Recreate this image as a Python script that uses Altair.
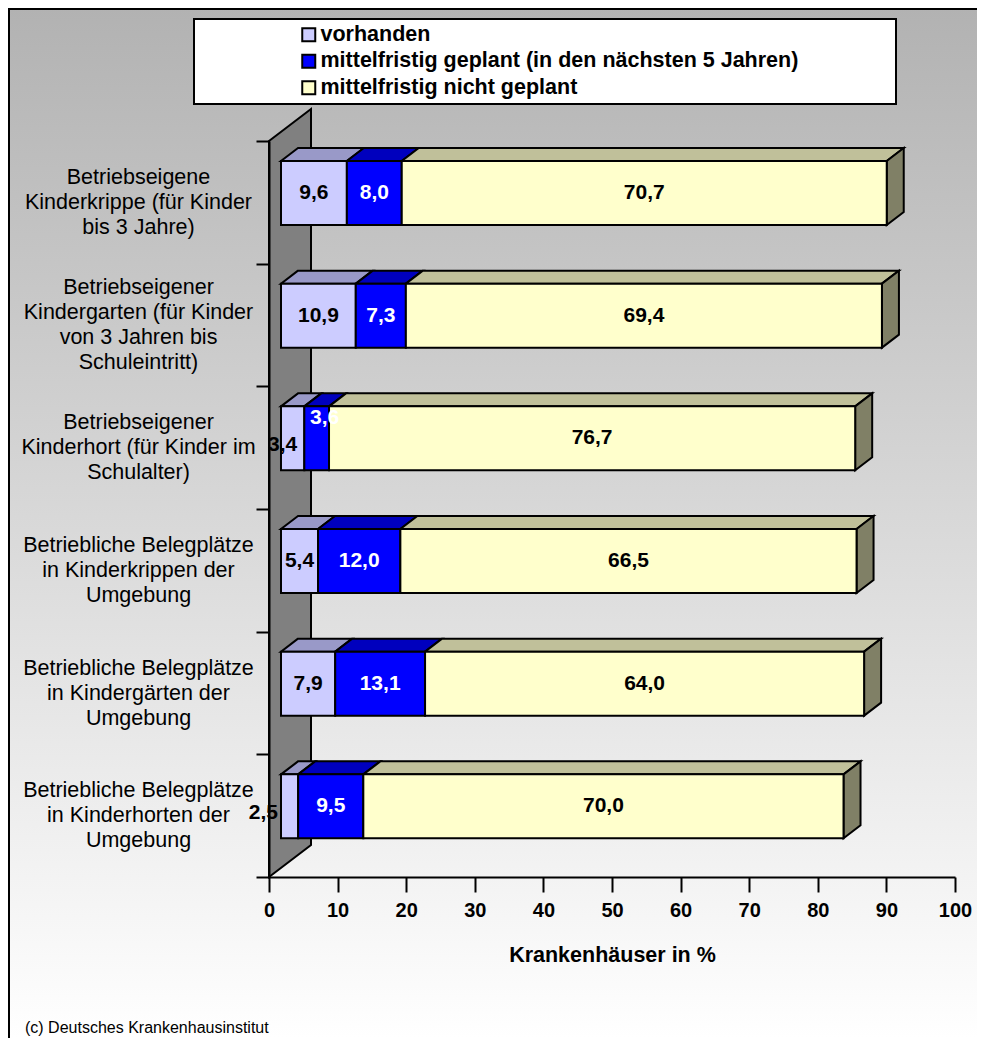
import json
import altair as alt
import pandas as pd

# ---------------- data ----------------
categories = [
    "Betriebseigene\nKinderkrippe (für Kinder\nbis 3 Jahre)",
    "Betriebseigener\nKindergarten (für Kinder\nvon 3 Jahren bis\nSchuleintritt)",
    "Betriebseigener\nKinderhort (für Kinder im\nSchulalter)",
    "Betriebliche Belegplätze\nin Kinderkrippen der\nUmgebung",
    "Betriebliche Belegplätze\nin Kindergärten der\nUmgebung",
    "Betriebliche Belegplätze\nin Kinderhorten der\nUmgebung",
]
series = [
    "vorhanden",
    "mittelfristig geplant (in den nächsten 5 Jahren)",
    "mittelfristig nicht geplant",
]
vorhanden = [9.6, 10.9, 3.4, 5.4, 7.9, 2.5]
geplant = [8.0, 7.3, 3.6, 12.0, 13.1, 9.5]
nicht_geplant = [70.7, 69.4, 76.7, 66.5, 64.0, 70.0]
x_ticks = [0, 10, 20, 30, 40, 50, 60, 70, 80, 90, 100]
x_title = "Krankenhäuser in %"
source_note = "(c) Deutsches Krankenhausinstitut"

# ---------------- styles ----------------
front_colors = ["#CCCCFF", "#0000FF", "#FFFFCC"]
top_colors = ["#9999C8", "#0000BE", "#C0C09A"]
side_color = "#808066"
label_colors = ["#000000", "#FFFFFF", "#000000"]
wall_color = "#808080"
FONT = "Liberation Sans"

W, H = 686, 736                 # plot area
N = len(categories)
PXX = W / 100.0
PXY = H / N
FX = 12 / PXX                   # front face offset from wall
FT = 20 / PXY                   # front face top within band
FB = 84 / PXY                   # front face bottom within band
DX = 17 / PXX                   # bar depth (x)
DY = 13 / PXY                   # bar depth (y)
WDX = 42 / PXX                  # wall depth
WDY = 32 / PXY
LINE_H = 25                     # category label line height

PAD_L, PAD_T = 261, 133
CANVAS_W, CANVAS_H = 969, 1030
PAD_R = CANVAS_W - PAD_L - W
PAD_B = CANVAS_H - PAD_T - H

rows = []
for k in range(N):
    for s, vals in enumerate([vorhanden, geplant, nicht_geplant]):
        rows.append(dict(k=k, order=s, series=series[s], value=vals[k],
                         top=top_colors[s], tcol=label_colors[s]))
df = pd.DataFrame(rows)

xscale = alt.Scale(domain=[0, 100], nice=False, zero=False)
yscale = alt.Scale(domain=[0, N], reverse=True, nice=False, zero=False)

lab_arr = json.dumps([c.split("\n") for c in categories] + [[""]], ensure_ascii=False)

xaxis = alt.Axis(values=x_ticks, title=x_title, titleFontSize=21.5, titleFontWeight="bold",
                 titleColor="black", titlePadding=24, titleFont=FONT,
                 labelFontSize=20, labelFontWeight="bold", labelColor="black", labelFont=FONT,
                 labelPadding=8, labelFlush=False, labelOverlap=False,
                 tickSize=15, tickWidth=2, tickColor="black",
                 domainColor="black", domainWidth=2, grid=False, zindex=1)
yaxis = alt.Axis(values=list(range(N + 1)), title=None,
                 labelExpr=lab_arr + "[datum.value]",
                 labelOffset={"condition": {"test": f"length({lab_arr}[datum.value]) == 4",
                                            "value": PXY / 2 - 1.5 * LINE_H},
                              "value": PXY / 2 - LINE_H},
                 labelPadding=118, labelAlign="center",
                 labelBaseline="middle", labelFontSize=21.5, labelLineHeight=LINE_H,
                 labelColor="black", labelFont=FONT, labelLimit=400,
                 labelOverlap=False, labelFlush=False,
                 tickSize=13, tickWidth=2, tickColor="black",
                 domainColor="black", domainWidth=2, grid=False, zindex=1)


def X(f):
    return alt.X(f, type="quantitative", scale=xscale, axis=xaxis, stack=None)


def Y(f):
    return alt.Y(f, type="quantitative", scale=yscale, axis=yaxis, stack=None)


base = (
    alt.Chart(df)
    .transform_stack(stack="value", groupby=["k"], as_=["v0", "v1"],
                     sort=[alt.SortField("order", order="ascending")])
    .transform_calculate(
        fx0=f"datum.v0 + {FX}",
        fx1=f"datum.v1 + {FX}",
        fy0=f"datum.k + {FT}",
        fy1=f"datum.k + {FB}",
    )
)


def two_sided(chart):
    # duplicate every row: side 0 = front edge, side 1 = back edge
    return (chart.transform_calculate(s0="0", s1="1")
            .transform_fold(["s0", "s1"], as_=["sidekey", "side"]))


one = pd.DataFrame({"a": [0]})

background = alt.Chart(one).mark_rect(
    fill=alt.LinearGradient(
        gradient="linear",
        stops=[alt.GradientStop(color="#b2b2b2", offset=0),
               alt.GradientStop(color="#ffffff", offset=1)],
        x1=0, x2=0, y1=0, y2=1),
).encode(x=alt.value(-PAD_L), x2=alt.value(W + PAD_R), y=alt.value(-PAD_T), y2=alt.value(H + PAD_B))

frame_left = alt.Chart(one).mark_rule(color="black", strokeWidth=2).encode(
    x=alt.value(-PAD_L + 1), y=alt.value(-PAD_T), y2=alt.value(H + PAD_B))
frame_top = alt.Chart(one).mark_rule(color="black", strokeWidth=2).encode(
    y=alt.value(-PAD_T + 1), x=alt.value(-PAD_L), x2=alt.value(W + PAD_R))

legend_box = alt.Chart(one).mark_rect(fill="white", stroke="black", strokeWidth=2).encode(
    x=alt.value(194 - 269), x2=alt.value(896 - 269), y=alt.value(19 - 141), y2=alt.value(104 - 141))

wall_df = pd.DataFrame({"wx": [0, WDX], "wy0": [0, -WDY], "wy1": [N, N - WDY]})
wall = alt.Chart(wall_df).mark_area(orient="vertical", fill=wall_color, stroke="black",
                                    strokeWidth=2).encode(
    x=X("wx"), y=Y("wy0"), y2="wy1")

top = (
    two_sided(base)
    .transform_calculate(
        ty=f"+datum.side == 0 ? datum.fy0 : datum.fy0 - {DY}",
        tx0=f"+datum.side == 0 ? datum.fx0 : datum.fx0 + {DX}",
        tx1=f"+datum.side == 0 ? datum.fx1 : datum.fx1 + {DX}",
        seg="'s' + datum.k + '_' + datum.order",
    )
    .mark_area(orient="horizontal", stroke="black", strokeWidth=2, interpolate="linear")
    .encode(y=Y("ty"), x=X("tx0"), x2="tx1",
            fill=alt.Fill("top:N", scale=None), detail="seg:N")
)

side = (
    two_sided(base.transform_filter("datum.order == 2"))
    .transform_calculate(
        rx=f"+datum.side == 0 ? datum.fx1 : datum.fx1 + {DX}",
        ry0=f"+datum.side == 0 ? datum.fy0 : datum.fy0 - {DY}",
        ry1=f"+datum.side == 0 ? datum.fy1 : datum.fy1 - {DY}",
        seg="'r' + datum.k",
    )
    .mark_area(orient="vertical", fill=side_color, stroke="black", strokeWidth=2,
               interpolate="linear")
    .encode(x=X("rx"), y=Y("ry0"), y2="ry1", detail="seg:N")
)

front = base.mark_rect(stroke="black", strokeWidth=2).encode(
    x=X("fx0"), x2="fx1", y=Y("fy0"), y2="fy1",
    fill=alt.Fill("series:N", scale=alt.Scale(domain=series, range=front_colors),
                  legend=alt.Legend(title=None, orient="none", legendX=29, legendY=-117,
                                    direction="vertical", symbolType="square", symbolSize=169,
                                    symbolStrokeColor="black", symbolStrokeWidth=2,
                                    labelFontSize=21.5, labelFontWeight="bold", labelFont=FONT,
                                    labelColor="black", labelLimit=800, labelOffset=1,
                                    rowPadding=3.5, padding=0, zindex=1)),
)

labels = (
    base.transform_calculate(
        lbl="replace(format(datum.value, '.1f'), '.', ',')",
        lx=(f"(datum.fx0 + datum.fx1) / 2 + (datum.value < 4 ? (datum.order == 0 ? "
            f"-10 - (3.4 - datum.value) * 18 : 8) : 0) / {PXX}"),
        ly=(f"(datum.fy0 + datum.fy1) / 2 + (datum.value < 4 ? (datum.order == 0 ? 7 : -20) "
            f": 0) / {PXY}"),
    )
    .mark_text(font=FONT, fontSize=21, fontWeight="bold", align="center", baseline="middle")
    .encode(x=X("lx"), y=Y("ly"), text="lbl:N", color=alt.Color("tcol:N", scale=None))
)

note = alt.Chart(one).mark_text(font=FONT, fontSize=16, align="left", baseline="middle",
                                color="black").encode(
    x=alt.value(25 - 269), y=alt.value(1028 - 141), text=alt.value(source_note))

chart = (
    alt.layer(background, frame_left, frame_top, legend_box, wall, top, side, front, labels, note)
    .resolve_scale(fill="independent", color="independent")
    .properties(width=W, height=H,
                autosize=alt.AutoSizeParams(type="none"),
                padding={"left": PAD_L, "top": PAD_T, "right": PAD_R, "bottom": PAD_B})
    .configure(font=FONT)
    .configure_view(stroke=None)
)

chart.save("out.html", embed_options={"renderer": "svg", "actions": False})
